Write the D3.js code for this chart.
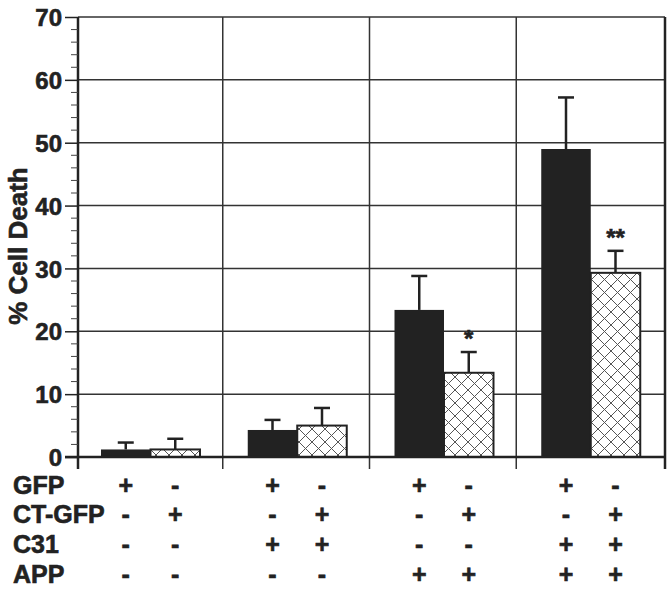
<!DOCTYPE html>
<html>
<head>
<meta charset="utf-8">
<script src="https://cdn.jsdelivr.net/npm/d3@7"></script>
<style>
  body { margin: 0; background: #fff; }
  svg text { font-family: "Liberation Sans", Arial, Helvetica, sans-serif; font-weight: bold; fill: #222; stroke: #222; stroke-width: 0.6px; }
</style>
</head>
<body>
<script>
// Set up size
var width = 672;
var height = 591;

// Chart data
var groups = ["g1", "g2", "g3", "g4"];
var series = ["solid", "hatch"];
var meanSolid = [1.2, 4.3, 23.4, 49.0];
var errSolid = [2.3, 5.9, 28.8, 57.2];
var meanHatch = [1.2, 5.0, 13.4, 29.3];
var errHatch = [2.9, 7.8, 16.7, 32.8];
var stars = ["", "", "*", "**"];
var yTicks = [0, 10, 20, 30, 40, 50, 60, 70];

// Condition table below the bars
var rowLabels = ["GFP", "CT-GFP", "C31", "APP"];
var rowGFP = ["+", "-", "+", "-", "+", "-", "+", "-"];
var rowCTGFP = ["-", "+", "-", "+", "-", "+", "-", "+"];
var rowC31 = ["-", "-", "+", "+", "-", "-", "+", "+"];
var rowAPP = ["-", "-", "-", "-", "+", "+", "+", "+"];

// plot area edges (note: "top" is taken by window.top)
var pLeft = 78, pRight = 665, pTop = 17, pBottom = 457;

var svg = d3.select("body").append("svg")
  .attr("width", width)
  .attr("height", height);

// crosshatch pattern for the second series
var defs = svg.append("defs");
var pat = defs.append("pattern")
  .attr("id", "xhatch")
  .attr("patternUnits", "userSpaceOnUse")
  .attr("width", 13)
  .attr("height", 13);
pat.append("rect").attr("width", 13).attr("height", 13).attr("fill", "#fff");
pat.append("path")
  .attr("d", "M0,0L13,13M13,0L0,13")
  .attr("stroke", "#555")
  .attr("stroke-width", 1);

var y = d3.scaleLinear().domain([0, 70]).range([pBottom, pTop]);
var x = d3.scaleBand().domain(groups).range([pLeft, pRight]);
var xs = d3.scaleBand().domain(series).range([23, 122]);

// horizontal grid lines
svg.append("g").selectAll("line")
  .data(yTicks.filter(function (d) { return d > 0; }))
  .enter().append("line")
  .attr("x1", pLeft).attr("x2", pRight)
  .attr("y1", function (d) { return y(d); })
  .attr("y2", function (d) { return y(d); })
  .attr("stroke", "#333").attr("stroke-width", 1.5);

// vertical dividers between groups
svg.append("g").selectAll("line")
  .data(groups.slice(1))
  .enter().append("line")
  .attr("x1", function (d) { return x(d) - 2; })
  .attr("x2", function (d) { return x(d) - 2; })
  .attr("y1", pTop).attr("y2", pBottom + 12)
  .attr("stroke", "#333").attr("stroke-width", 1.5);

// bars
var rows = groups.map(function (g, i) {
  return [
    { g: g, s: "solid", v: meanSolid[i], e: errSolid[i] },
    { g: g, s: "hatch", v: meanHatch[i], e: errHatch[i] }
  ];
});
var flat = d3.merge(rows);

// error bars (behind bars)
var eb = svg.append("g").selectAll("g")
  .data(flat)
  .enter().append("g")
  .attr("stroke", "#222").attr("stroke-width", 2.5);
eb.append("line")
  .attr("x1", function (d) { return x(d.g) + xs(d.s) + xs.bandwidth() / 2; })
  .attr("x2", function (d) { return x(d.g) + xs(d.s) + xs.bandwidth() / 2; })
  .attr("y1", function (d) { return y(d.v); })
  .attr("y2", function (d) { return y(d.e); });
eb.append("line")
  .attr("x1", function (d) { return x(d.g) + xs(d.s) + xs.bandwidth() / 2 - 8; })
  .attr("x2", function (d) { return x(d.g) + xs(d.s) + xs.bandwidth() / 2 + 8; })
  .attr("y1", function (d) { return y(d.e); })
  .attr("y2", function (d) { return y(d.e); });

svg.append("g").selectAll("rect")
  .data(flat)
  .enter().append("rect")
  .attr("x", function (d) { return x(d.g) + xs(d.s); })
  .attr("y", function (d) { return y(d.v); })
  .attr("width", xs.bandwidth())
  .attr("height", function (d) { return y(0) - y(d.v); })
  .attr("fill", function (d) { return d.s == "solid" ? "#222" : "url(#xhatch)"; })
  .attr("stroke", "#222")
  .attr("stroke-width", function (d) { return d.s == "solid" ? 0 : 2; });

// significance stars
svg.append("g").selectAll("text")
  .data(groups)
  .enter().append("text")
  .attr("x", function (d) { return x(d) + xs("hatch") + xs.bandwidth() / 2; })
  .attr("y", function (d, i) { return y(errHatch[i]) - 5; })
  .attr("text-anchor", "middle")
  .attr("font-size", "24px")
  .text(function (d, i) { return stars[i]; });

// axes frame
svg.append("line")
  .attr("x1", pLeft).attr("x2", pLeft)
  .attr("y1", pTop).attr("y2", pBottom + 12)
  .attr("stroke", "#222").attr("stroke-width", 2.5);
svg.append("line")
  .attr("x1", pRight).attr("x2", pRight)
  .attr("y1", pTop).attr("y2", pBottom + 12)
  .attr("stroke", "#222").attr("stroke-width", 2.5);
svg.append("line")
  .attr("x1", pLeft - 13).attr("x2", pRight)
  .attr("y1", pBottom).attr("y2", pBottom)
  .attr("stroke", "#222").attr("stroke-width", 2.5);

// y axis ticks and labels
var yAxis = d3.axisLeft(y)
  .tickValues(yTicks)
  .tickSize(13)
  .tickPadding(3)
  .tickFormat(d3.format("d"));
var ya = svg.append("g")
  .attr("transform", "translate(" + pLeft + ",0)")
  .call(yAxis);
ya.select(".domain").remove();
ya.selectAll(".tick line").attr("stroke", "#222").attr("stroke-width", 1.5);
ya.selectAll(".tick text")
  .attr("font-size", "24px")
  .attr("dy", "0.36em")
  .attr("fill", "#222");

var minor = d3.range(0, 71, 2).filter(function (d) { return d % 10 != 0; });
svg.append("g").selectAll("line")
  .data(minor)
  .enter().append("line")
  .attr("x1", pLeft - 7).attr("x2", pLeft)
  .attr("y1", function (d) { return y(d); })
  .attr("y2", function (d) { return y(d); })
  .attr("stroke", "#444").attr("stroke-width", 1);

// y title
svg.append("text")
  .attr("transform", "translate(27," + 246 + ") rotate(-90)")
  .attr("text-anchor", "middle")
  .attr("font-size", "26px")
  .text("% Cell Death");

// condition table
var tableRows = [rowGFP, rowCTGFP, rowC31, rowAPP];
var rowY = [485, 514, 544, 574];
var barCenters = d3.merge(groups.map(function (g) {
  return series.map(function (s) { return x(g) + xs(s) + xs.bandwidth() / 2; });
}));

svg.append("g").selectAll("text")
  .data(rowLabels)
  .enter().append("text")
  .attr("x", 13)
  .attr("y", function (d, i) { return rowY[i]; })
  .attr("dy", "0.36em")
  .attr("font-size", "25px")
  .text(function (d) { return d; });

tableRows.forEach(function (row, r) {
  svg.append("g").selectAll("text")
    .data(row)
    .enter().append("text")
    .attr("x", function (d, i) { return barCenters[i]; })
    .attr("y", rowY[r])
    .attr("dy", "0.36em")
    .attr("text-anchor", "middle")
    .attr("font-size", "25px")
    .text(function (d) { return d; });
});
</script>
</body>
</html>
